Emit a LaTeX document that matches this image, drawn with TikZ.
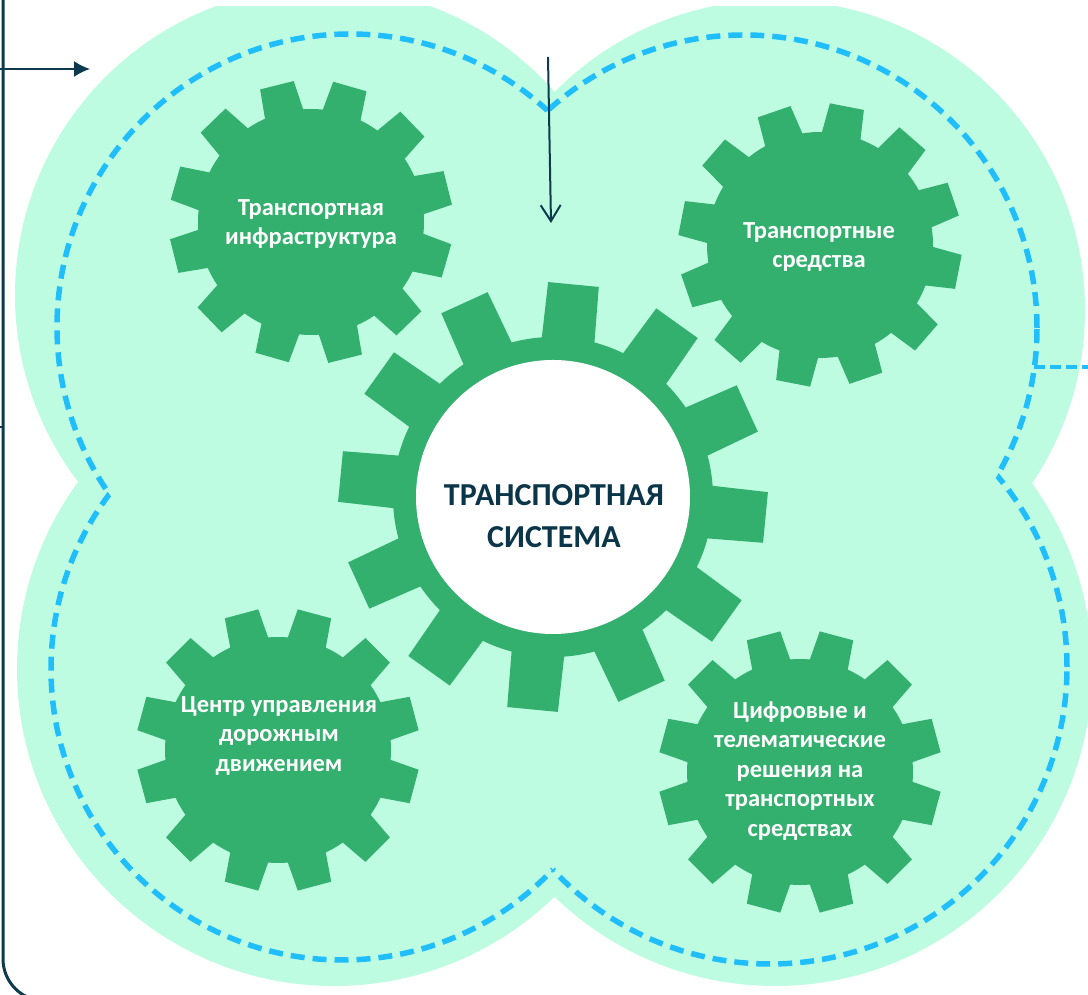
\documentclass[tikz,border=0pt]{standalone}
\usepackage{fontspec}
\setmainfont{Carlito}
\usetikzlibrary{arrows.meta}
\definecolor{mint}{HTML}{BEFCE1}
\definecolor{gearg}{HTML}{33AF6E}
\definecolor{dashblue}{HTML}{21BEFE}
\definecolor{navy}{HTML}{0E3A4D}
\definecolor{titlec}{HTML}{0B3548}
\tikzset{
  gearfill/.style={fill=gearg},
  dashline/.style={draw=dashblue, line width=5.5pt, dash pattern=on 14pt off 8pt},
  dashline2/.style={draw=dashblue, line width=4pt, dash pattern=on 11pt off 5pt},
  navyline/.style={draw=navy, line width=1.6pt},
  gtext/.style={text=white, align=center, font=\fontsize{24.5}{29.5}\selectfont\bfseries},
  ttext/.style={text=titlec, align=center, font=\fontsize{32}{42}\selectfont\bfseries}
}
% cx, cy, last index, n, offset, body radius, outer radius, base half angle, tip half angle
\newcommand{\mygear}[9]{%
  \fill[gearfill,shift={(#1,#2)}] ({#5-#8}:#6)
  \foreach \k in {0,...,#3}{
    -- ({#5+\k*360/#4-#9}:#7) -- ({#5+\k*360/#4+#9}:#7) -- ({#5+\k*360/#4+#8}:#6)
    arc[start angle={#5+\k*360/#4+#8}, end angle={#5+(\k+1)*360/#4-#8}, radius=#6]
  } -- cycle;
}
\begin{document}
\begin{tikzpicture}[x=1pt,y=1pt]
\useasboundingbox (0,0) rectangle (1088,995);
\clip (0,0) rectangle (1088,995);
% mint clover background
\begin{scope}
  \clip (0,0) rectangle (1088,988);
  \fill[mint] (323,700) circle (308) (775,685) circle (310)
              (334,326) circle (317) (775,326) circle (317);
\end{scope}
% dashed outline (outer arcs of four circles)
\begin{scope}[even odd rule]
  \clip (-100,-100) rectangle (1200,1100) (744,667) circle (293);
  \clip (-100,-100) rectangle (1200,1100) (342,326) circle (291);
  \clip (-100,-100) rectangle (1200,1100) (770,328) circle (297);
  \draw[dashline] (350,668) circle (293);
\end{scope}
\begin{scope}[even odd rule]
  \clip (-100,-100) rectangle (1200,1100) (350,668) circle (293);
  \clip (-100,-100) rectangle (1200,1100) (342,326) circle (291);
  \clip (-100,-100) rectangle (1200,1100) (770,328) circle (297);
  \draw[dashline] (744,667) circle (293);
\end{scope}
\begin{scope}[even odd rule]
  \clip (-100,-100) rectangle (1200,1100) (350,668) circle (293);
  \clip (-100,-100) rectangle (1200,1100) (744,667) circle (293);
  \clip (-100,-100) rectangle (1200,1100) (770,328) circle (297);
  \draw[dashline] (342,326) circle (291);
\end{scope}
\begin{scope}[even odd rule]
  \clip (-100,-100) rectangle (1200,1100) (350,668) circle (293);
  \clip (-100,-100) rectangle (1200,1100) (744,667) circle (293);
  \clip (-100,-100) rectangle (1200,1100) (342,326) circle (291);
  \draw[dashline] (770,328) circle (297);
\end{scope}
% gears
\mygear{553}{498}{11}{12}{24.5}{160}{215}{9.5}{6.8}
\fill[white] (553,498) circle (137);
\mygear{311}{773}{11}{12}{14}{113}{142}{10}{7}
\mygear{820}{750}{11}{12}{19}{113}{142}{10}{7}
\mygear{278}{245}{11}{12}{15}{113}{142}{10}{7}
\mygear{800}{223}{11}{12}{15}{113}{142}{10}{7}
% texts
\node[ttext] (center) at (554,479) {ТРАНСПОРТНАЯ\\СИСТЕМА};
\node[gtext] (infra) at (311,771) {Транспортная\\инфраструктура};
\node[gtext] (veh) at (819,748) {Транспортные\\средства};
\node[gtext] (ctrl) at (279,259) {Центр управления\\дорожным\\движением};
\node[gtext] (digit) at (800,224) {Цифровые и\\телематические\\решения на\\транспортных\\средствах};
% connectors
\coordinate (a1s) at (0,926);
\coordinate (a1e) at (90,926);
\coordinate (a2s) at (548,938);
\coordinate (a2e) at (551,772);
\coordinate (fr1) at (3,1000);
\coordinate (fr2) at (3,-6);
\coordinate (fr3) at (400,-6);
\coordinate (tk1) at (0,568);
\coordinate (tk2) at (3,568);
\coordinate (rd1) at (1034,628);
\coordinate (rd2) at (1090,628);
\draw[navyline, -{Latex[length=16pt,width=16pt]}] (a1s) -- (a1e);
\draw[navyline, line width=2pt, -{Straight Barb[length=16pt,width=20pt,line width=2pt]}] (a2s) -- (a2e);
\draw[navyline, line width=3pt, rounded corners=42pt] (fr1) -- (fr2) -- (fr3);
\draw[navyline] (tk1) -- (tk2);
\draw[dashline2] (rd1) -- (rd2);
\end{tikzpicture}
\end{document}
